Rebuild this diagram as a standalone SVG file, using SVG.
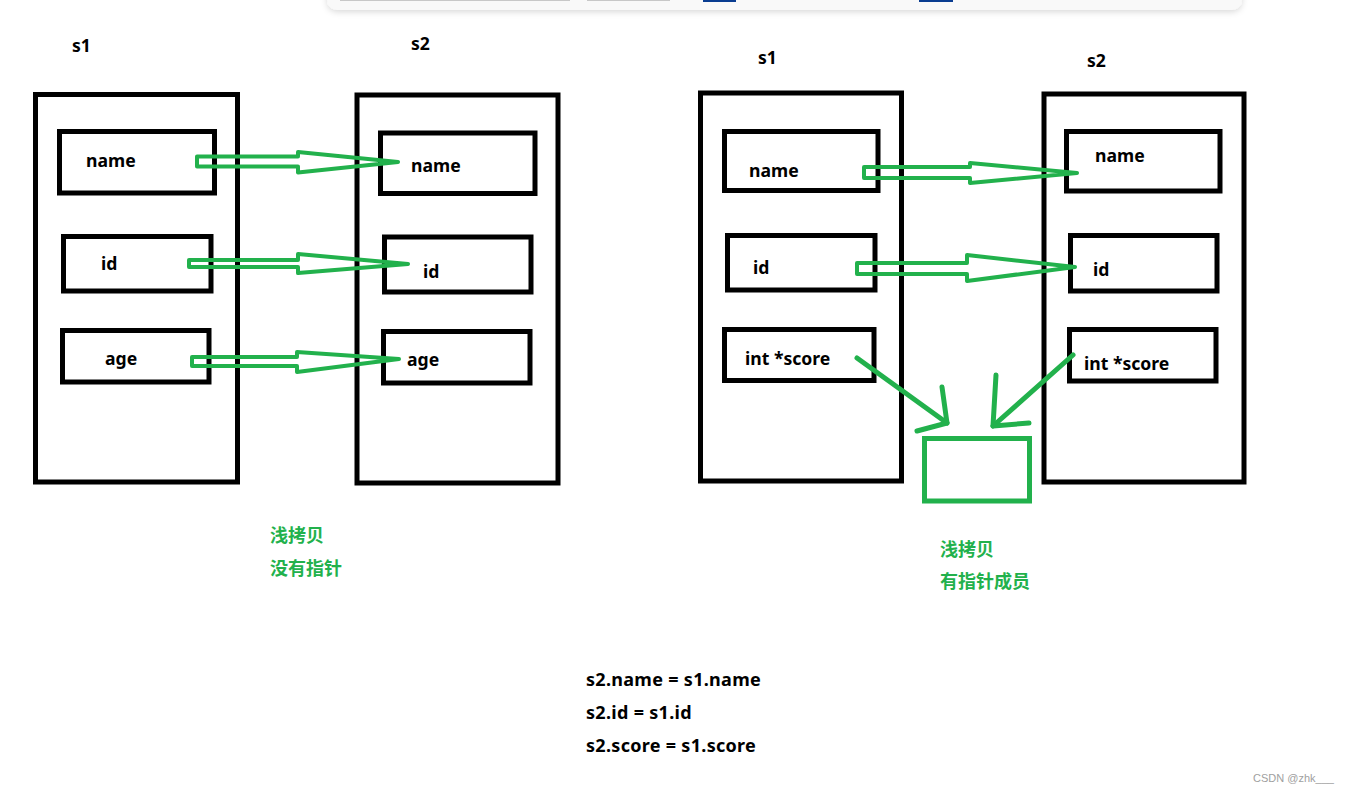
<svg xmlns="http://www.w3.org/2000/svg" width="1347" height="793" viewBox="0 0 1347 793">
<defs>
<style>
.box{fill:none;stroke:#000;stroke-width:5}
.t{font-family:"Noto Sans","Noto Sans CJK SC",sans-serif;font-weight:bold;font-size:17.6px;fill:#000}
.b{font-family:"Noto Sans","Noto Sans CJK SC",sans-serif;font-weight:bold;font-size:18px;letter-spacing:0.3px;fill:#000}
.g{font-family:"Noto Sans CJK SC","Noto Sans",sans-serif;font-weight:bold;font-size:18px;fill:#22b14c}
.ga{fill:none;stroke:#22b14c;stroke-width:4;stroke-linejoin:round}
.gl{fill:none;stroke:#22b14c;stroke-width:5;stroke-linecap:round;stroke-linejoin:round}
</style>
<filter id="sh" x="-5%" y="-100%" width="110%" height="300%">
<feDropShadow dx="0" dy="2" stdDeviation="3" flood-color="#000" flood-opacity="0.15"/>
</filter>
</defs>
<rect width="1347" height="793" fill="#fff"/>
<g id="toolbar">
<rect x="327" y="-30" width="915" height="40" rx="10" fill="#f9f9f9" filter="url(#sh)"/>
<rect x="340" y="-1" width="230" height="2" fill="#c8c8c8"/>
<rect x="587" y="-1" width="83" height="2" fill="#c8c8c8"/>
<rect x="703" y="-1" width="33" height="3" fill="#0a3d91"/>
<rect x="919" y="-1" width="34" height="3" fill="#0a3d91"/>
</g>
<g id="left-s1">
<text class="t" x="72" y="52">s1</text>
<rect class="box" x="35.5" y="94.5" width="202" height="387.5"/>
<rect class="box" x="59.5" y="131.5" width="155" height="61.5"/>
<text class="t" x="86" y="167">name</text>
<rect class="box" x="63.5" y="236.5" width="147.5" height="54.5"/>
<text class="t" x="101" y="270">id</text>
<rect class="box" x="62.5" y="330.5" width="146.5" height="51.5"/>
<text class="t" x="105" y="365">age</text>
</g>
<g id="left-s2">
<text class="t" x="411" y="50">s2</text>
<rect class="box" x="357" y="95" width="201" height="388"/>
<rect class="box" x="380.5" y="133" width="154.5" height="60.5"/>
<text class="t" x="411" y="172">name</text>
<rect class="box" x="384.5" y="237" width="146.5" height="55"/>
<text class="t" x="423" y="278">id</text>
<rect class="box" x="383.5" y="331.5" width="146.5" height="51.5"/>
<text class="t" x="407" y="366">age</text>
</g>
<g id="right-s1">
<text class="t" x="758" y="64">s1</text>
<rect class="box" x="700.5" y="93" width="201" height="388"/>
<rect class="box" x="724.5" y="131.5" width="153.5" height="59"/>
<text class="t" x="749" y="177">name</text>
<rect class="box" x="727.5" y="235.5" width="147.5" height="54.5"/>
<text class="t" x="753" y="274">id</text>
<rect class="box" x="724.5" y="329.5" width="149.5" height="51"/>
<text class="t" x="745" y="365">int *score</text>
</g>
<g id="right-s2">
<text class="t" x="1087" y="67">s2</text>
<rect class="box" x="1044" y="94" width="200" height="388"/>
<rect class="box" x="1066.5" y="131.5" width="153.5" height="59.5"/>
<text class="t" x="1095" y="162">name</text>
<rect class="box" x="1070.5" y="235.5" width="146.5" height="55.5"/>
<text class="t" x="1093" y="276">id</text>
<rect class="box" x="1069.5" y="329.5" width="146.5" height="51.5"/>
<text class="t" x="1084" y="370">int *score</text>
</g>
<g id="heap-block">
<rect x="924.5" y="438.5" width="105" height="62.5" fill="none" stroke="#22b14c" stroke-width="5"/>
</g>
<g id="connectors">
<polygon class="ga" points="197,156.5 298,156.5 298,152 398,162 298,172.5 298,166.5 197,166.5"/>
<polygon class="ga" points="189,260 298,260 298,254 408,264 298,273 298,267 189,267"/>
<polygon class="ga" points="192,357 297,357 297,352 399,359 297,372 297,366 192,366"/>
<polygon class="ga" points="864,167 970,167 970,163 1077,173 970,183 970,178 864,178"/>
<polygon class="ga" points="857,263 967,263 967,255 1075,267 967,281 967,274 857,274"/>
<polyline class="gl" points="857,358 947,423"/>
<polyline class="gl" points="942,387 947,423 917,431"/>
<polyline class="gl" points="1073,355 993,426"/>
<polyline class="gl" points="996,375 993,426 1029,423"/>
</g>
<g id="notes">
<text class="g" x="270" y="542">浅拷贝</text>
<text class="g" x="270" y="575">没有指针</text>
<text class="g" x="940" y="556">浅拷贝</text>
<text class="g" x="940" y="588">有指针成员</text>
<text class="b" x="586" y="686">s2.name = s1.name</text>
<text class="b" x="586" y="719">s2.id = s1.id</text>
<text class="b" x="586" y="752">s2.score = s1.score</text>
</g>
<text x="1253" y="782" font-family="Liberation Sans,Arial,sans-serif" font-size="11" fill="#a0a0a0">CSDN @zhk___</text>
</svg>
